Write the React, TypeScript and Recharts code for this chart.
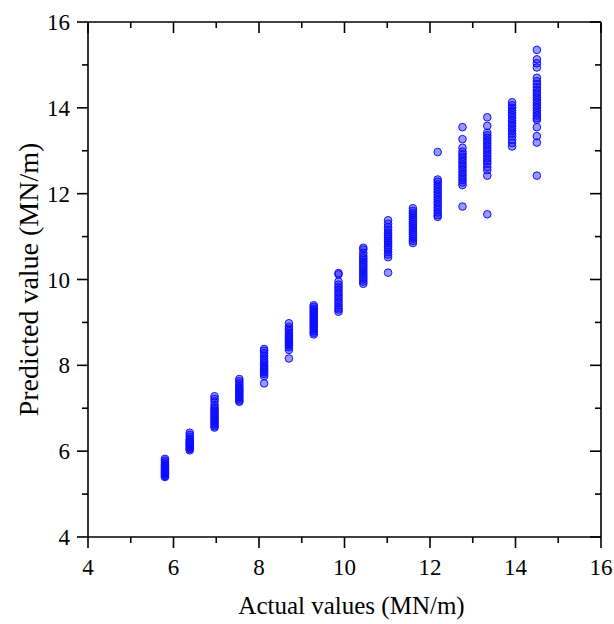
import React from "react";
import {
  ScatterChart,
  Scatter,
  XAxis,
  YAxis,
  Label,
} from "recharts";

// actual values (x positions of the columns)
const actualValues = [
  5.8, 6.38, 6.96, 7.54, 8.12, 8.7, 9.28, 9.86, 10.44, 11.02, 11.6, 12.18,
  12.76, 13.34, 13.92, 14.5,
];

// predicted values for each column
const pred01 = [5.82, 5.78, 5.74, 5.7, 5.68, 5.65, 5.63, 5.6, 5.58, 5.55, 5.53, 5.5, 5.48, 5.45, 5.42, 5.4];
const pred02 = [6.43, 6.38, 6.33, 6.28, 6.25, 6.22, 6.2, 6.17, 6.15, 6.12, 6.1, 6.07, 6.05, 6.02];
const pred03 = [7.28, 7.22, 7.16, 7.08, 7.02, 6.98, 6.94, 6.9, 6.86, 6.82, 6.78, 6.74, 6.7, 6.66, 6.62, 6.58, 6.55];
const pred04 = [7.68, 7.63, 7.58, 7.53, 7.49, 7.45, 7.41, 7.38, 7.34, 7.3, 7.26, 7.22, 7.18, 7.15];
const pred05 = [8.38, 8.34, 8.28, 8.22, 8.16, 8.1, 8.05, 8.0, 7.96, 7.92, 7.88, 7.84, 7.8, 7.75, 7.58];
const pred06 = [8.98, 8.9, 8.85, 8.8, 8.75, 8.7, 8.66, 8.62, 8.58, 8.54, 8.5, 8.46, 8.42, 8.36, 8.16];
const pred07 = [9.4, 9.36, 9.32, 9.28, 9.24, 9.2, 9.16, 9.12, 9.08, 9.04, 9.0, 8.96, 8.92, 8.88, 8.84, 8.8, 8.76, 8.72];
const pred08 = [10.15, 10.12, 9.95, 9.88, 9.82, 9.76, 9.7, 9.64, 9.58, 9.52, 9.46, 9.4, 9.34, 9.3, 9.25];
const pred09 = [10.74, 10.7, 10.62, 10.55, 10.5, 10.45, 10.4, 10.35, 10.3, 10.25, 10.2, 10.15, 10.1, 10.05, 10.0, 9.95, 9.9];
const pred10 = [11.38, 11.3, 11.22, 11.16, 11.1, 11.05, 11.0, 10.95, 10.9, 10.85, 10.8, 10.75, 10.7, 10.64, 10.58, 10.52, 10.16];
const pred11 = [11.66, 11.6, 11.55, 11.5, 11.45, 11.4, 11.35, 11.3, 11.25, 11.2, 11.15, 11.1, 11.05, 11.0, 10.95, 10.9, 10.85];
const pred12 = [12.97, 12.33, 12.28, 12.22, 12.16, 12.1, 12.04, 11.98, 11.92, 11.86, 11.8, 11.74, 11.68, 11.62, 11.56, 11.5, 11.46];
const pred13 = [13.55, 13.27, 13.07, 12.98, 12.92, 12.86, 12.8, 12.74, 12.68, 12.62, 12.56, 12.5, 12.44, 12.38, 12.32, 12.26, 12.2, 11.7];
const pred14 = [13.78, 13.58, 13.42, 13.36, 13.3, 13.24, 13.18, 13.12, 13.06, 13.0, 12.94, 12.88, 12.82, 12.76, 12.7, 12.62, 12.55, 12.42, 11.52];
const pred15 = [14.13, 14.06, 14.0, 13.94, 13.88, 13.82, 13.76, 13.7, 13.64, 13.58, 13.52, 13.46, 13.4, 13.34, 13.26, 13.18, 13.1];
const pred16 = [15.35, 15.13, 15.04, 14.94, 14.7, 14.62, 14.55, 14.48, 14.42, 14.36, 14.3, 14.24, 14.18, 14.12, 14.06, 14.0, 13.94, 13.88, 13.82, 13.76, 13.72, 13.55, 13.34, 13.19, 12.42];

const predicted = [
  pred01, pred02, pred03, pred04, pred05, pred06, pred07, pred08,
  pred09, pred10, pred11, pred12, pred13, pred14, pred15, pred16,
];

// axis ticks (odd ones are minor, unlabeled)
const axisTicks = [4, 5, 6, 7, 8, 9, 10, 11, 12, 13, 14, 15, 16];

const points = actualValues.flatMap((x, i) => predicted[i].map((y) => ({ x, y })));

const FONT = '"Liberation Serif", "Times New Roman", serif';
const AXIS_W = 1.6;

const isMajor = (v: number) => v % 2 === 0;

const BottomTick = ({ x, y, payload }: any) => (
  <g>
    <line x1={x} y1={y} x2={x} y2={y + (isMajor(payload.value) ? 11 : 6)} stroke="#000" strokeWidth={AXIS_W} />
    {isMajor(payload.value) && (
      <text x={x} y={y + 38} textAnchor="middle" fontSize={23} fontFamily={FONT} fill="#000">
        {payload.value}
      </text>
    )}
  </g>
);

const LeftTick = ({ x, y, payload }: any) => (
  <g>
    <line x1={x} y1={y} x2={x - (isMajor(payload.value) ? 11 : 6)} y2={y} stroke="#000" strokeWidth={AXIS_W} />
    {isMajor(payload.value) && (
      <text x={x - 18} y={y + 8} textAnchor="end" fontSize={23} fontFamily={FONT} fill="#000">
        {payload.value}
      </text>
    )}
  </g>
);

const TopTick = ({ x, y, payload }: any) => (
  <line x1={x} y1={y} x2={x} y2={y + (isMajor(payload.value) ? 11 : 6)} stroke="#000" strokeWidth={AXIS_W} />
);

const RightTick = ({ x, y, payload }: any) => (
  <line x1={x} y1={y} x2={x - (isMajor(payload.value) ? 11 : 6)} y2={y} stroke="#000" strokeWidth={AXIS_W} />
);

const Dot = ({ cx, cy }: any) => (
  <circle cx={cx} cy={cy} r={3.8} fill="#0000ff" fillOpacity={0.4} stroke="#1010ff" strokeWidth={1} />
);

const NoDot = () => <g />;

export default function App() {
  const axisLine = { stroke: "#000", strokeWidth: AXIS_W };
  return (
    <div style={{ position: "absolute", left: 0, top: 0, background: "#fff" }}>
      <ScatterChart width={614} height={624} margin={{ top: 22, right: 13, bottom: 0, left: 0 }}>
        <XAxis
          xAxisId="main"
          dataKey="x"
          type="number"
          domain={[4, 16]}
          allowDataOverflow
          ticks={axisTicks}
          interval={0}
          height={87}
          tickSize={0}
          tickMargin={0}
          tickLine={false}
          axisLine={axisLine}
          tick={<BottomTick />}
        >
          <Label
            value="Actual values (MN/m)"
            position="insideBottom"
            offset={10}
            dx={7}
            style={{ fontSize: 25, fontFamily: FONT, fill: "#000" }}
          />
        </XAxis>
        <XAxis
          xAxisId="top"
          orientation="top"
          dataKey="x"
          type="number"
          domain={[4, 16]}
          allowDataOverflow
          ticks={axisTicks}
          interval={0}
          height={1}
          mirror
          tickSize={0}
          tickMargin={0}
          tickLine={false}
          axisLine={axisLine}
          tick={<TopTick />}
        />
        <YAxis
          yAxisId="main"
          dataKey="y"
          type="number"
          domain={[4, 16]}
          allowDataOverflow
          ticks={axisTicks}
          interval={0}
          width={88}
          tickSize={0}
          tickMargin={0}
          tickLine={false}
          axisLine={axisLine}
          tick={<LeftTick />}
        >
          <Label
            value="Predicted value (MN/m)"
            angle={-90}
            position="insideLeft"
            offset={28}
            style={{ fontSize: 28, fontFamily: FONT, fill: "#000", textAnchor: "middle" }}
          />
        </YAxis>
        <YAxis
          yAxisId="right"
          orientation="right"
          dataKey="y"
          type="number"
          domain={[4, 16]}
          allowDataOverflow
          ticks={axisTicks}
          interval={0}
          width={1}
          mirror
          tickSize={0}
          tickMargin={0}
          tickLine={false}
          axisLine={axisLine}
          tick={<RightTick />}
        />
        {/* invisible series so the frame axes (top/right) get rendered */}
        <Scatter
          data={points}
          xAxisId="top"
          yAxisId="right"
          shape={<NoDot />}
          isAnimationActive={false}
        />
        <Scatter
          data={points}
          xAxisId="main"
          yAxisId="main"
          shape={<Dot />}
          isAnimationActive={false}
        />
      </ScatterChart>
    </div>
  );
}
